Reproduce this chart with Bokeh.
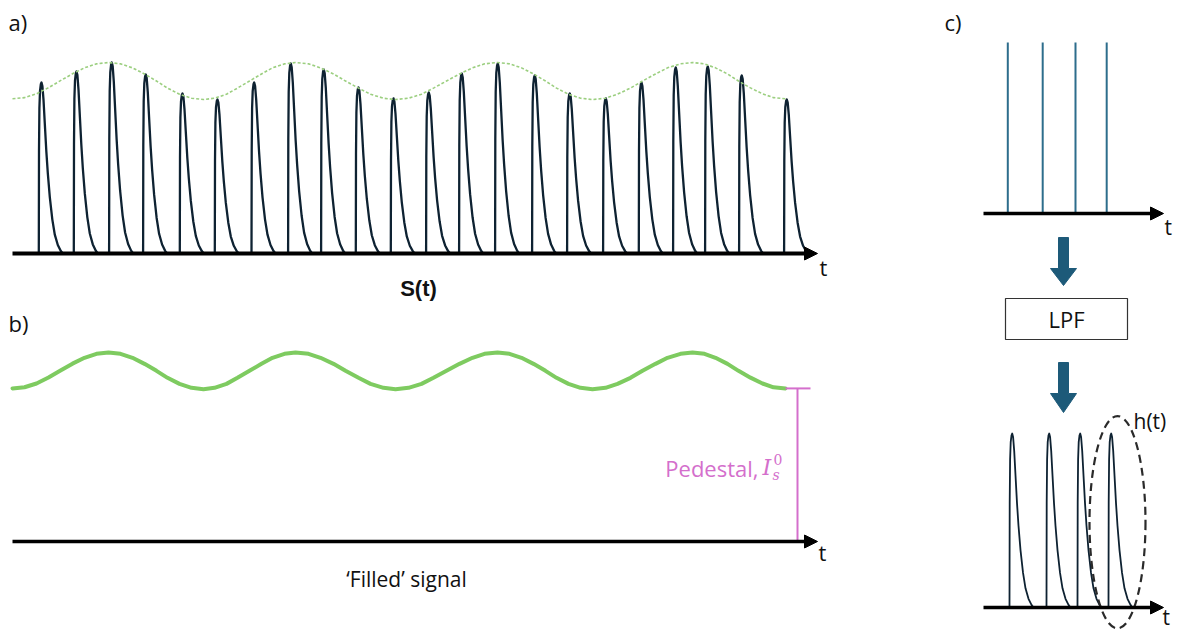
from bokeh.plotting import figure
from bokeh.models import Range1d, Arrow, NormalHead, Label
from bokeh.embed import file_html
from bokeh.resources import INLINE

W, H = 1178, 630

# ---------------- data ----------------
# panel a: onset times of the pulses (arbitrary time units) and their peak heights
pulse_times_a = [2.63, 6.13, 9.66, 13.06, 16.73, 20.23, 23.90, 27.56, 30.86, 34.33, 37.83,
                 41.36, 44.66, 48.26, 51.96, 55.46, 59.06, 62.63, 66.06, 69.26, 72.66, 77.16]
pulse_heights_a = [0.895, 0.953, 1.000, 0.937, 0.838, 0.806, 0.895, 0.995, 0.963, 0.869, 0.812,
                   0.843, 0.942, 0.995, 0.932, 0.838, 0.812, 0.895, 0.974, 0.979, 0.932, 0.806]
# slow modulation (envelope in a, 'filled' signal in b)
envelope_t = [0.0, 1.2, 2.4, 3.6, 4.8, 6.0, 7.2, 8.4, 9.6,
              10.8, 12.0, 13.2, 14.4, 15.5, 16.7, 17.9, 19.1,
              20.2, 21.4, 22.5, 23.7, 24.9, 26.0, 27.2, 28.3,
              29.6, 30.8, 32.1, 33.3, 34.6, 35.8, 37.1, 38.3,
              39.6, 40.9, 42.1, 43.4, 44.7, 46.0, 47.2, 48.5,
              49.7, 50.9, 52.1, 53.3, 54.4, 55.6, 56.8, 58.0,
              59.3, 60.5, 61.8, 63.0, 64.3, 65.5, 66.8, 68.0,
              69.2, 70.3, 71.5, 72.6, 73.8, 75.0, 76.1, 77.3]
envelope_v = [0.810, 0.816, 0.836, 0.868, 0.905, 0.941, 0.972, 0.993, 1.000,
              0.993, 0.972, 0.940, 0.903, 0.866, 0.834, 0.813, 0.806,
              0.813, 0.834, 0.866, 0.903, 0.940, 0.972, 0.993, 1.000,
              0.993, 0.972, 0.940, 0.903, 0.866, 0.834, 0.813, 0.806,
              0.813, 0.834, 0.866, 0.903, 0.940, 0.972, 0.993, 1.000,
              0.993, 0.972, 0.940, 0.903, 0.866, 0.834, 0.813, 0.806,
              0.813, 0.834, 0.866, 0.903, 0.940, 0.972, 0.993, 1.000,
              0.993, 0.972, 0.940, 0.903, 0.867, 0.836, 0.816, 0.810]
pedestal_level = 0.81
axis_end_ab = 80.5
# single pulse shape h(t): time after onset and fraction of peak
pulse_shape_dt = [0.0, 0.02, 0.06, 0.12, 0.20, 0.27, 0.36, 0.47, 0.60, 0.75, 0.90, 1.10,
                  1.35, 1.60, 1.90, 2.20, 2.40]
pulse_shape_frac = [0.0, 0.60, 0.85, 0.95, 0.99, 1.00, 0.98, 0.90, 0.76, 0.60, 0.47, 0.33,
                    0.20, 0.11, 0.05, 0.015, 0.0]
# panel c
spike_times_c = [2.43, 5.92, 9.20, 12.32]
spike_heights_c = [1.0, 1.0, 1.0, 1.0]
pulse_times_c = [2.60, 6.30, 9.40, 12.50]
pulse_heights_c = [1.0, 1.0, 1.0, 1.0]
axis_end_c = 18.0

# ---------------- figure ----------------
p = figure(width=W, height=H, x_range=Range1d(0, W), y_range=Range1d(H, 0),
           toolbar_location=None, output_backend="svg", min_border=0,
           x_axis_location=None, y_axis_location=None)
p.grid.visible = False
p.outline_line_color = None
p.background_fill_color = "white"
p.border_fill_color = "white"


def xrange_for(px0, ppu):
    return Range1d(-px0 / ppu, (W - px0) / ppu)


def yrange_for(py0, ppu):
    b = H - py0
    return Range1d(-b / ppu, (H - b) / ppu)


p.extra_x_ranges = {"tab": xrange_for(12, 10.0), "tc": xrange_for(983, 10.0)}
p.extra_y_ranges = {"va": yrange_for(253, 191.0), "vb": yrange_for(541, 189.0),
                    "vc1": yrange_for(213, 171.0), "vc2": yrange_for(607, 174.0)}

PULSE = "#0e2232"
GREEN_D = "#9ccf80"
GREEN = "#7ecb60"
MAGENTA = "#d46fcc"
BLUE = "#2d6d8c"
ARROWBLUE = "#1d5a79"
FONT = "Open Sans"


def pulses(times, heights):
    xs = [[t + d for d in pulse_shape_dt] for t in times]
    ys = [[h * f for f in pulse_shape_frac] for h in heights]
    return xs, ys


def axis_arrow(x0, x1, xr, yr, lw):
    p.add_layout(Arrow(x_start=x0, y_start=0, x_end=x1, y_end=0, x_range_name=xr, y_range_name=yr,
                       line_color="black", line_width=lw,
                       end=NormalHead(size=13, fill_color="black", line_color="black", line_width=1)))


def label(x, y, text, size=22, align="left", color="#111111", style="normal", font=FONT, baseline="middle"):
    p.add_layout(Label(x=x, y=y, text=text, text_font=font, text_font_size=f"{size}px",
                       text_align=align, text_baseline=baseline, text_color=color, text_font_style=style))


# ---- panel a ----
xs, ys = pulses(pulse_times_a, pulse_heights_a)
p.multi_line(xs, ys, x_range_name="tab", y_range_name="va", line_color=PULSE, line_width=2.3,
             line_join="round")
p.line(envelope_t, envelope_v, x_range_name="tab", y_range_name="va", line_color=GREEN_D,
       line_width=1.6, line_dash="3 2")
axis_arrow(0, axis_end_ab, "tab", "va", 4)

# ---- panel b ----
p.line(envelope_t, envelope_v, x_range_name="tab", y_range_name="vb", line_color=GREEN,
       line_width=4, line_join="round", line_cap="round")
axis_arrow(0, axis_end_ab, "tab", "vb", 3.5)
ped_t = envelope_t[-1] + 1.2
p.segment(x0=[ped_t, ped_t - 1.2, ped_t - 1.2], y0=[0, 0, pedestal_level],
          x1=[ped_t, ped_t + 1.3, ped_t + 1.3], y1=[pedestal_level, 0, pedestal_level],
          x_range_name="tab", y_range_name="vb", line_color=MAGENTA, line_width=2)

# ---- panel c ----
p.segment(x0=spike_times_c, y0=[0] * 4, x1=spike_times_c, y1=spike_heights_c,
          x_range_name="tc", y_range_name="vc1", line_color=BLUE, line_width=2)
axis_arrow(0, axis_end_c, "tc", "vc1", 3.5)

xs, ys = pulses(pulse_times_c, pulse_heights_c)
p.multi_line(xs, ys, x_range_name="tc", y_range_name="vc2", line_color=PULSE, line_width=1.8,
             line_join="round")
axis_arrow(0, axis_end_c, "tc", "vc2", 3.5)
p.ellipse(x=[pulse_times_c[-1] + 0.9], y=[0.49], width=[5.6], height=[1.22],
          x_range_name="tc", y_range_name="vc2", fill_alpha=0, line_color="#2a2a2a",
          line_width=2.2, line_dash="8 5")


def block_arrow(cx, top, head_start, tip):
    return ([cx - 5, cx + 5, cx + 5, cx + 13, cx, cx - 13, cx - 5],
            [top, top, head_start, head_start, tip, head_start, head_start])


a1 = block_arrow(1063, 237, 268, 285)
a2 = block_arrow(1063, 362, 393, 412)
p.patches([a1[0], a2[0]], [a1[1], a2[1]], fill_color=ARROWBLUE, line_color=ARROWBLUE)
p.quad(left=[1005], right=[1127], top=[298], bottom=[339], fill_color="white",
       line_color="#333333", line_width=1.2)

# ---- texts ----
label(8, 21, "a)")
label(8, 322, "b)")
label(944, 21, "c)")
label(418, 288, "S(t)", size=22, align="center", style="bold", font="Liberation Sans")
label(819, 266, "t")
label(818, 551, "t")
label(1164, 226, "t", size=21)
label(1162, 616, "t", size=21)
label(406, 578, "\u2018Filled\u2019 signal", size=21, align="center")
label(1066, 318, "LPF", align="center")
label(1133, 420, "h(t)", size=21)
label(758, 467, "Pedestal,", align="right", color=MAGENTA)
label(762, 467, "I", size=22, color=MAGENTA, style="italic", font="DejaVu Serif")
label(772, 474, "s", size=14, color=MAGENTA, style="italic", font="DejaVu Serif")
label(773, 459, "0", size=14, color=MAGENTA, font="DejaVu Serif")

open("out.html", "w").write(file_html(p, INLINE))
